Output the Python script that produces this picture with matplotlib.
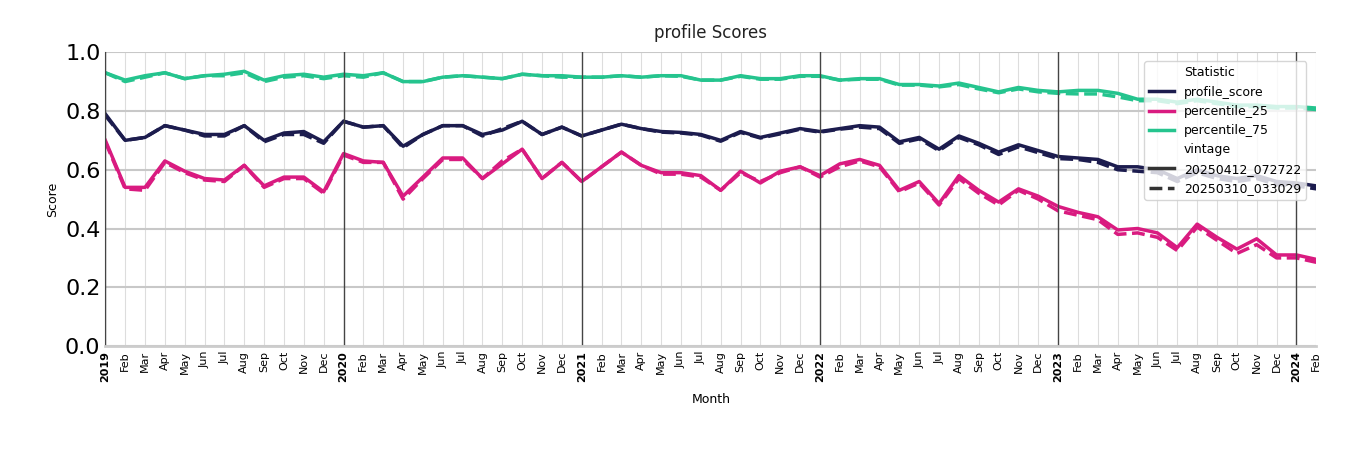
import matplotlib
matplotlib.use("Agg")
import matplotlib.pyplot as plt
import pandas as pd

months = pd.date_range("2019-01-01", "2024-02-01", freq="MS")

score_new = [0.79, 0.70, 0.71, 0.75, 0.735, 0.72, 0.72, 0.75, 0.70, 0.725, 0.73, 0.695,
             0.765, 0.745, 0.75, 0.68, 0.72, 0.75, 0.75, 0.72, 0.735, 0.765, 0.72, 0.745,
             0.715, 0.735, 0.755, 0.74, 0.73, 0.727, 0.72, 0.70, 0.73, 0.71, 0.725, 0.74,
             0.73, 0.74, 0.75, 0.745, 0.695, 0.71, 0.67, 0.715, 0.69, 0.66, 0.685, 0.665,
             0.645, 0.64, 0.635, 0.61, 0.61, 0.60, 0.57, 0.60, 0.58, 0.57, 0.58, 0.56,
             0.555, 0.545]
score_old = [0.785, 0.70, 0.71, 0.75, 0.735, 0.715, 0.715, 0.75, 0.695, 0.72, 0.72, 0.69,
             0.765, 0.745, 0.75, 0.675, 0.72, 0.75, 0.75, 0.715, 0.74, 0.765, 0.72, 0.745,
             0.715, 0.735, 0.755, 0.74, 0.728, 0.725, 0.718, 0.697, 0.727, 0.708, 0.722, 0.738,
             0.728, 0.738, 0.745, 0.74, 0.69, 0.705, 0.665, 0.71, 0.685, 0.652, 0.678, 0.658,
             0.638, 0.635, 0.625, 0.60, 0.595, 0.59, 0.56, 0.59, 0.57, 0.56, 0.57, 0.55,
             0.545, 0.535]

p25_new = [0.70, 0.54, 0.54, 0.63, 0.595, 0.57, 0.565, 0.615, 0.545, 0.575, 0.575, 0.525,
           0.655, 0.63, 0.625, 0.51, 0.575, 0.64, 0.64, 0.57, 0.62, 0.67, 0.57, 0.625,
           0.56, 0.61, 0.66, 0.615, 0.59, 0.59, 0.58, 0.53, 0.595, 0.555, 0.595, 0.61,
           0.58, 0.62, 0.635, 0.615, 0.53, 0.56, 0.485, 0.58, 0.53, 0.49, 0.535, 0.51,
           0.475, 0.455, 0.44, 0.395, 0.40, 0.385, 0.335, 0.415, 0.37, 0.33, 0.365, 0.31,
           0.31, 0.295]
p25_old = [0.695, 0.535, 0.53, 0.625, 0.59, 0.565, 0.56, 0.615, 0.54, 0.57, 0.57, 0.52,
           0.65, 0.625, 0.625, 0.50, 0.57, 0.635, 0.635, 0.57, 0.63, 0.67, 0.57, 0.625,
           0.56, 0.61, 0.66, 0.615, 0.585, 0.585, 0.575, 0.53, 0.59, 0.56, 0.59, 0.61,
           0.575, 0.61, 0.63, 0.61, 0.525, 0.555, 0.48, 0.57, 0.52, 0.48, 0.53, 0.50,
           0.46, 0.445, 0.43, 0.38, 0.385, 0.37, 0.325, 0.405, 0.36, 0.315, 0.345, 0.30,
           0.30, 0.285]

p75_new = [0.93, 0.905, 0.92, 0.93, 0.91, 0.92, 0.925, 0.935, 0.905, 0.92, 0.925, 0.915,
           0.925, 0.92, 0.93, 0.90, 0.90, 0.915, 0.92, 0.915, 0.91, 0.925, 0.92, 0.92,
           0.915, 0.915, 0.92, 0.915, 0.92, 0.92, 0.905, 0.905, 0.92, 0.91, 0.91, 0.92,
           0.92, 0.905, 0.91, 0.91, 0.89, 0.89, 0.885, 0.895, 0.88, 0.865, 0.88, 0.87,
           0.865, 0.87, 0.87, 0.86, 0.84, 0.84, 0.83, 0.84, 0.83, 0.82, 0.82, 0.815,
           0.815, 0.81]
p75_old = [0.93, 0.90, 0.915, 0.93, 0.91, 0.92, 0.92, 0.93, 0.90, 0.915, 0.92, 0.91,
           0.92, 0.915, 0.93, 0.90, 0.90, 0.915, 0.92, 0.915, 0.91, 0.925, 0.92, 0.915,
           0.915, 0.915, 0.92, 0.915, 0.92, 0.918, 0.905, 0.905, 0.918, 0.908, 0.908, 0.918,
           0.918, 0.905, 0.908, 0.908, 0.888, 0.888, 0.882, 0.89, 0.875, 0.862, 0.875, 0.865,
           0.86, 0.858, 0.858, 0.848, 0.835, 0.835, 0.825, 0.835, 0.825, 0.815, 0.815, 0.81,
           0.81, 0.805]

colors = {"profile_score": "#1c1c4e", "percentile_25": "#d91b80", "percentile_75": "#25c48e"}

fig = plt.figure(figsize=(13.5, 4.5), dpi=100)
ax = fig.add_axes([0.078, 0.231, 0.897, 0.653])

x = range(len(months))
for name, new, old in [("profile_score", score_new, score_old),
                       ("percentile_25", p25_new, p25_old),
                       ("percentile_75", p75_new, p75_old)]:
    ax.plot(x, new, color=colors[name], lw=2.5, ls="-")
    ax.plot(x, old, color=colors[name], lw=2.5, ls="--")

ax.set_xlim(0, len(months) - 1)
ax.set_ylim(0, 1)
ax.set_yticks([0, 0.2, 0.4, 0.6, 0.8, 1.0])
ax.set_yticklabels(["0.0", "0.2", "0.4", "0.6", "0.8", "1.0"], fontsize=16)
ax.grid(axis="y", color="#c8c8c8", lw=1.5)
for i, m in enumerate(months):
    if m.month == 1:
        ax.axvline(i, color="#444444", lw=1)
    else:
        ax.axvline(i, color="#dddddd", lw=0.8, zorder=0)
ax.set_xticks(list(x))
labels = ax.set_xticklabels([m.strftime("%Y") if m.month == 1 else m.strftime("%b") for m in months],
                            rotation=90, fontsize=8)
for lab, m in zip(labels, months):
    if m.month == 1:
        lab.set_fontweight("bold")
ax.tick_params(axis="both", length=0)
for s in ["top", "right"]:
    ax.spines[s].set_visible(False)
ax.spines["left"].set_color("#444444")
ax.spines["bottom"].set_color("#cccccc")
ax.spines["bottom"].set_linewidth(2)

ax.set_title("profile Scores", fontsize=12, color="#222222", pad=10)
ax.set_xlabel("Month", fontsize=9, labelpad=8)
ax.set_ylabel("Score", fontsize=9)

handles = [plt.Line2D([], [], color="none", label="Statistic")]
for name in colors:
    handles.append(plt.Line2D([], [], color=colors[name], lw=2.5, label=name))
handles.append(plt.Line2D([], [], color="none", label="vintage"))
handles.append(plt.Line2D([], [], color="#333333", lw=2.5, ls="-", label="20250412_072722"))
handles.append(plt.Line2D([], [], color="#333333", lw=2.5, ls="--", label="20250310_033029"))
ax.legend(handles=handles, loc="upper right", fontsize=9, framealpha=0.8,
          bbox_to_anchor=(0.997, 0.99))

fig.savefig("out.png", dpi=100)
